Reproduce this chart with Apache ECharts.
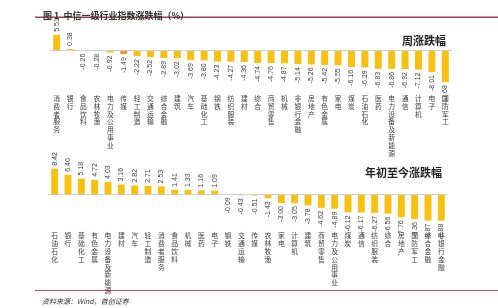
<!DOCTYPE html>
<html>
<head>
<meta charset="utf-8">
<script src="https://cdn.jsdelivr.net/npm/echarts@6/dist/echarts.min.js"></script>
<style>
  html, body { margin: 0; padding: 0; background: #fff; }
  #main { width: 498px; height: 308px; }
</style>
</head>
<body>
<div id="main"></div>
<script>
// 周涨跌幅
var weekCats = ['消费者服务', '银行', '食品饮料', '农林牧渔', '电力及公用事业', '传媒', '轻工制造', '交通运输', '综合金融', '建筑',
  '汽车', '基础化工', '钢铁', '纺织服装', '建材', '综合', '商贸零售', '机械', '非银行金融', '房地产',
  '有色金属', '家电', '煤炭', '石油石化', '医药', '电力设备及新能源', '通信', '计算机', '电子', '国防军工'];
var weekVals = [5.51, 0.38, -0.26, -0.28, -0.92, -1.49, -2.22, -2.52, -2.89, -3.02,
  -3.69, -3.80, -4.23, -4.27, -4.36, -4.74, -4.76, -4.87, -5.14, -5.26,
  -5.42, -5.55, -6.16, -6.29, -6.83, -6.86, -6.92, -7.12, -8.01, -11.68];

// 年初至今涨跌幅
var ytdCats = ['石油石化', '银行', '基础化工', '有色金属', '电力设备及新能源', '建材', '汽车', '轻工制造', '消费者服务', '食品饮料',
  '机械', '医药', '电子', '钢铁', '交通运输', '传媒', '农林牧渔', '家电', '计算机', '建筑',
  '商贸零售', '电力及公用事业', '煤炭', '通信', '纺织服装', '综合', '房地产', '国防军工', '综合金融', '非银行金融'];
var ytdVals = [8.42, 6.40, 5.18, 4.72, 4.03, 3.16, 2.82, 2.71, 2.53, 1.41,
  1.33, 1.16, 1.09, -0.09, -0.43, -0.51, -1.43, -3.00, -3.05, -3.78,
  -4.62, -4.89, -6.12, -6.17, -6.27, -6.56, -7.76, -8.36, -8.87, -8.88];

var highlightCat = '传媒';

var yellow = '#F8C112';
var orange = '#E79A3A';
var cjk = '"Noto Sans CJK SC", sans-serif';

function barData(cats, vals, mark) {
  return vals.map(function (v, i) {
    var item = {
      value: v,
      label: v >= 0
        ? { position: 'top', align: 'left', verticalAlign: 'middle' }
        : { position: 'bottom', align: 'right', verticalAlign: 'middle' }
    };
    if (mark && cats[i] === highlightCat) item.itemStyle = { color: orange };
    return item;
  });
}

function catAxis(idx, cats, margin) {
  return {
    type: 'category',
    gridIndex: idx,
    data: cats,
    position: 'bottom',
    axisLine: { show: false, onZero: false },
    axisTick: { show: false },
    axisLabel: {
      interval: 0,
      hideOverlap: false,
      margin: margin,
      verticalAlign: 'top',
      fontFamily: cjk,
      fontSize: 6.8,
      lineHeight: 7.8,
      color: '#404040',
      // 竖排文字
      formatter: function (v) { return v.split('').join('\n'); }
    }
  };
}

function valAxis(idx, min, max) {
  return {
    type: 'value',
    gridIndex: idx,
    min: min,
    max: max,
    show: false,
    splitLine: { show: false }
  };
}

function barSeries(idx, cats, vals, mark) {
  return {
    type: 'bar',
    xAxisIndex: idx,
    yAxisIndex: idx,
    barWidth: '52%',
    itemStyle: { color: yellow },
    label: {
      show: true,
      rotate: 90,
      distance: 3,
      fontFamily: 'Liberation Sans Narrow, Liberation Sans, sans-serif',
      fontSize: 7,
      color: '#404040',
      formatter: function (p) { return p.value.toFixed(2); }
    },
    markLine: {
      silent: true,
      symbol: 'none',
      label: { show: false },
      lineStyle: { color: '#D0D0D0', type: 'solid', width: 1 },
      data: [{ yAxis: 0 }]
    },
    data: barData(cats, vals, mark)
  };
}

var myChart = echarts.init(document.getElementById('main'));
myChart.setOption({
  backgroundColor: '#fff',
  animation: false,
  title: [
    {
      text: '图 1  中信一级行业指数涨跌幅（%）',
      left: 38, top: 6,
      textStyle: { fontFamily: cjk, fontSize: 9, fontWeight: 'bold', color: '#333' }
    },
    {
      text: '周涨跌幅',
      left: 397, top: 30,
      textStyle: { fontFamily: cjk, fontSize: 11, fontWeight: 'bold', color: '#222' }
    },
    {
      text: '年初至今涨跌幅',
      left: 360, top: 162,
      textStyle: { fontFamily: cjk, fontSize: 11, fontWeight: 'bold', color: '#222' }
    },
    {
      text: '资料来源：Wind，首创证券',
      left: 37, top: 293,
      textStyle: { fontFamily: cjk, fontSize: 7, fontStyle: 'italic', fontWeight: 'normal', color: '#333' }
    }
  ],
  graphic: [
    { type: 'rect', shape: { x: 35, y: 16.5, width: 463, height: 1.5 }, style: { fill: '#A0404A' } },
    { type: 'rect', shape: { x: 35, y: 290, width: 463, height: 1 }, style: { fill: '#C0504D' } }
  ],
  grid: [
    { left: 50, right: 46, top: 33.5, height: 55 },
    { left: 48, right: 50, top: 164, height: 66 }
  ],
  xAxis: [catAxis(0, weekCats, 6), catAxis(1, ytdCats, 2)],
  yAxis: [valAxis(0, -14, 6), valAxis(1, -12, 10)],
  series: [
    barSeries(0, weekCats, weekVals, true),
    barSeries(1, ytdCats, ytdVals, false)
  ]
});
</script>
</body>
</html>
